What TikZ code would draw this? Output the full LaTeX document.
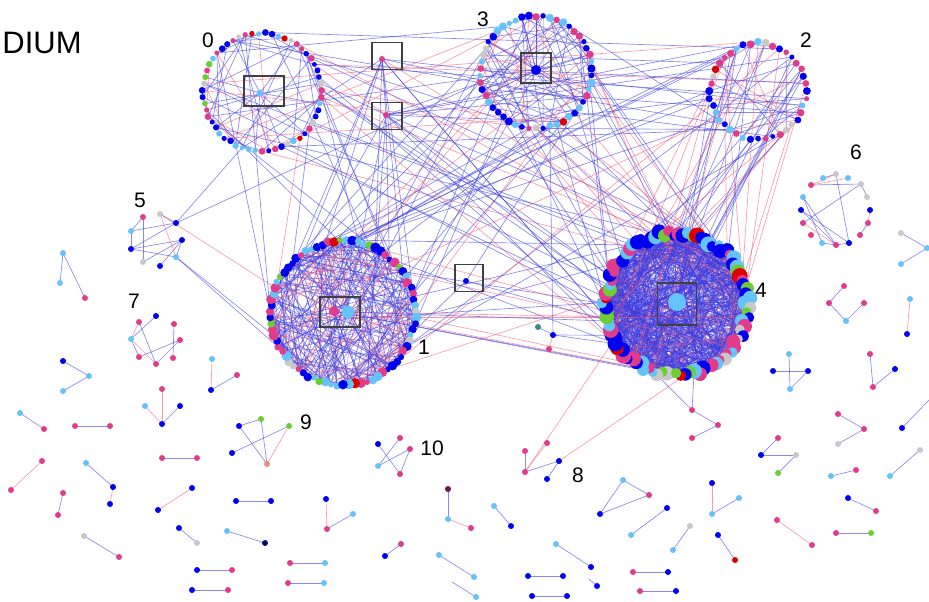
\documentclass[tikz,border=0pt]{standalone}
\usepackage{fontspec}
\setmainfont{Liberation Sans}
\usetikzlibrary{positioning}

\definecolor{nodeblue}{RGB}{0,0,240}
\definecolor{nodesky}{RGB}{100,195,250}
\definecolor{nodepink}{RGB}{225,60,140}
\definecolor{nodegrey}{RGB}{200,200,200}
\definecolor{nodegreen}{RGB}{110,205,50}
\definecolor{nodered}{RGB}{220,0,0}
\definecolor{nodesalmon}{RGB}{235,140,130}
\definecolor{nodeteal}{RGB}{60,140,130}
\definecolor{nodenavy}{RGB}{10,10,110}
\definecolor{nodepurple}{RGB}{110,20,90}
\definecolor{edgeblue}{RGB}{60,60,225}
\definecolor{edgered}{RGB}{240,90,120}

\newcommand\pickcolor{%
  \pgfmathrandominteger{\k}{1}{100}%
  \ifnum\k<36 \def\col{nodeblue}\else
  \ifnum\k<61 \def\col{nodesky}\else
  \ifnum\k<84 \def\col{nodepink}\else
  \ifnum\k<93 \def\col{nodegrey}\else
  \ifnum\k<97 \def\col{nodegreen}\else
  \def\col{nodered}\fi\fi\fi\fi\fi}

% name, cx, cy, radius, count, jitter
\newcommand\ringpoints[6]{%
  \foreach \i in {1,...,#5}{%
    \pgfmathsetmacro\rr{#4+#6*(rnd-0.5)}%
    \pgfmathsetmacro\aa{\i/#5*360+90}%
    \coordinate (#1-\i) at ({#2+\rr*cos(\aa)},{#3+\rr*sin(\aa)});}}

% from, n, to, n, count, red percent
\newcommand\links[6]{%
  \foreach \j in {1,...,#5}{%
    \pgfmathrandominteger{\a}{1}{#2}%
    \pgfmathrandominteger{\b}{1}{#4}%
    \pgfmathrandominteger{\k}{1}{100}%
    \ifnum\k>#6 \draw[bedge] (#1-\a) -- (#3-\b);\else\draw[redge] (#1-\a) -- (#3-\b);\fi}}

% name, count, min size, max size
\newcommand\ringdots[4]{%
  \foreach \i in {1,...,#2}{%
    \pickcolor\pgfmathsetmacro\s{#3+(#4-#3)*rnd}%
    \node[dot, fill=\col, minimum size=\s pt] (#1-d\i) at (#1-\i) {};}}

\def\smallnodes{a1/143/217/nodepink, a2/160/214/nodegrey, a3/176/223/nodeblue,
  a4/131/231/nodesky, a5/182/240/nodeblue, a6/131/249/nodeblue, a7/176/257/nodesky,
  a8/143/262/nodegrey, a9/160/266/nodeblue,
  b1/63/253/nodesky, b2/60/283/nodesky, b3/85/298/nodepink,
  g1/139/322/nodepink, g2/156/316/nodeblue, g3/174/324/nodepink, g4/131/339/nodesky,
  g5/180/340/nodepink, g6/139/357/nodepink, g7/156/364/nodepink, g8/173/358/nodepink,
  e1/63/361/nodeblue, e2/89/376/nodesky, e3/63/391/nodesky,
  f1/212/359/nodesky, f2/211/390/nodeblue, f3/237/375/nodepink,
  h1/162/389/nodepink, h2/145/406/nodesky, h3/180/406/nodeblue, h4/162/424/nodeblue,
  i1/20/413/nodesky, i2/44/429/nodepink, j1/75/426/nodepink, j2/110/426/nodepink,
  k1/239/426/nodeblue, k2/261/419/nodegreen, k3/289/426/nodegreen, k4/232/453/nodeblue,
  k5/267/464/nodesalmon,
  m1/378/444/nodeblue, m2/400/438/nodepink, m3/410/449/nodepink, m4/378/466/nodesky,
  m5/400/474/nodepink,
  n1/162/458/nodepink, n2/197/458/nodepink, o1/42/461/nodepink, o2/11/490/nodepink,
  q1/86/463/nodesky, q2/113/487/nodeblue, q3/110/504/nodeblue,
  r1/63/493/nodepink, r2/58/515/nodepink, t1/192/488/nodeblue, t2/158/510/nodeblue,
  u1/236/501/nodeblue, u2/271/501/nodeblue,
  v1/326/499/nodeblue, v2/327/529/nodepink, v3/353/514/nodesky,
  w1/448/489/nodepurple, w2/448/519/nodesky, w3/471/528/nodepink,
  y1/84/536/nodegrey, y2/119/557/nodepink, z1/179/528/nodeblue, z2/197/543/nodegrey,
  aa1/227/531/nodesky, aa2/265/543/nodenavy, ab1/385/556/nodeblue, ab2/401/544/nodepink,
  ac1/439/555/nodesky, ac2/474/577/nodesky, ac3/476/597/nodesky,
  ad1/197/570/nodeblue, ad2/232/570/nodepink, ae1/192/590/nodeblue, ae2/228/590/nodepink,
  af1/290/563/nodepink, af2/325/563/nodesky, ag1/288/583/nodepink, ag2/324/583/nodesky,
  p1/525/472/nodepink, p2/525/451/nodepink, p3/547/443/nodepink, p4/559/461/nodeblue,
  p5/547/479/nodeblue,
  pa1/692/410/nodepink, pa2/718/425/nodepink, pa3/692/438/nodepink,
  pb1/838/414/nodepink, pb2/864/429/nodepink, pb3/838/444/nodegrey, pc1/902/428/nodeblue,
  pd1/761/455/nodeblue, pd2/778/438/nodepink, pd3/796/455/nodegrey, pd4/778/473/nodegreen,
  pe1/831/476/nodesky, pe2/856/470/nodepink, pf1/890/476/nodesky, pf2/920/450/nodegrey,
  pg1/623/480/nodesky, pg2/649/495/nodepink, pg3/600/514/nodeblue,
  ph1/494/506/nodesky, ph2/511/526/nodeblue, pi1/667/508/nodeblue, pi2/631/535/nodesky,
  pj1/712/483/nodeblue, pj2/712/514/nodesky, pj3/739/498/nodesky,
  pk1/690/526/nodegrey, pk2/673/550/nodesky, pl1/718/535/nodeblue, pl2/735/560/nodered,
  pm1/777/520/nodepink, pm2/812/545/nodepink, pn1/848/498/nodeblue, pn2/876/511/nodepink,
  po1/836/533/nodepink, po2/871/533/nodegreen, pq1/556/544/nodesky, pq2/591/567/nodeblue,
  pr1/528/576/nodeblue, pr2/563/576/nodeblue, ps1/532/596/nodeblue, ps2/567/596/nodeblue,
  pt1/633/572/nodepink, pt2/668/572/nodeblue, pu1/640/591/nodepink, pu2/676/591/nodeblue,
  pv1/597/586/nodeblue,
  te1/538/327/nodeteal, te2/553/335/nodeblue, te3/549/349/nodepink,
  x1/823/178/nodesky, x2/836/174/nodegrey, x3/848/178/nodesky, x4/811/185/nodepink,
  x5/861/184/nodegrey, x6/867/197/nodegrey, x7/803/197/nodesky, x8/801/210/nodeblue,
  x9/870/210/nodeblue, x10/803/223/nodepink, x11/868/223/nodepink, x12/811/235/nodepink,
  x13/860/235/nodepink, x14/822/243/nodesky, x15/836/245/nodepink, x16/849/243/nodeblue,
  ra1/901/233/nodegrey, ra2/927/248/nodesky, ra3/901/264/nodesky,
  rb1/844/286/nodepink, rb2/829/303/nodepink, rb3/846/321/nodesky, rb4/864/303/nodepink,
  rc1/910/299/nodesky, rc2/907/334/nodeblue,
  rd1/789/354/nodesky, rd2/773/371/nodeblue, rd3/808/371/nodeblue, rd4/790/389/nodesky,
  re1/870/354/nodepink, re2/873/387/nodepink, re3/895/369/nodeblue}

\def\smallblue{a4/a3, a4/a1, a4/a6, a6/a3, a6/a5, a1/a8, a8/a5, a9/a5, a7/a5, a2/a3, a6/a7,
  b1/b2, b1/b3, g4/g2, g1/g7, g6/g5, g7/g5, g3/g8, g4/g6, e1/e2, e2/e3, f2/f3, h4/h3,
  i1/i2, j1/j2, k1/k2, k1/k5, k2/k5, k4/k3, m1/m5, m2/m4, m4/m3, m3/m5, n1/n2, q1/q2,
  r1/r2, u1/u2, v2/v3, w1/w2, y1/y2, z1/z2, aa1/aa2, ab1/ab2, ac1/ac2, fe4/ac3, ad1/ad2,
  ae1/ae2, af1/af2, ag1/ag2, p1/p2, p1/p4, p4/p5, pa1/pa2, pa2/pa3, pb1/pb2, pb2/pb3,
  pc1/fe1, pd1/pd2, pd1/pd3, pd3/pd4, pe1/pe2, pf1/pf2, pg1/pg2, pg2/pg3, pg3/pg1,
  ph1/ph2, pi1/pi2, pj2/pj3, pk1/pk2, pl1/pl2, pn1/pn2, po1/po2, pq1/pq2, pr1/pr2,
  ps1/ps2, pt1/pt2, pu1/pu2, fe3/pv1, te1/te2,
  x1/x2, x4/x5, x2/x16, x5/x10, x5/x6, x7/x15, x8/x15, x8/x16, x14/x15, x15/x16, x11/x13,
  x7/x14, ra1/ra2, ra2/ra3, rb1/rb2, rb2/rb3, rb3/rb4, rd1/rd4, rd2/rd3, rd3/rd4,
  re1/re2, re2/re3}

\def\smallred{a2/a7, g4/g1, g4/g7, f1/f2, h4/h1, h4/h2, k3/k5, o1/o2, q2/q3, t1/t2,
  v1/v2, w2/w3, p1/p3, pj1/pj2, pm1/pm2, te2/te3, x4/x2, x4/x3, x10/x15, x9/x11, rc1/rc2}

\begin{document}
\begin{tikzpicture}[x=0.5pt, y=-0.5pt,
    dot/.style={circle, inner sep=0pt, minimum size=3pt, fill=nodeblue},
    bedge/.style={draw=edgeblue, line width=0.33pt, opacity=0.6},
    redge/.style={draw=edgered, line width=0.33pt, opacity=0.6},
    frame/.style={draw=black!75, line width=0.8pt, inner sep=0pt},
    lbl/.style={font=\fontsize{10.5}{12}\selectfont, inner sep=0pt}
  ]
  \useasboundingbox (0,0) rectangle (929,601);
  \pgfmathsetseed{12}

  % points of the big communities
  \ringpoints{c0}{262}{92}{59}{55}{2}
  \ringpoints{c3}{536}{72}{56}{50}{2}
  \ringpoints{c2}{758}{91}{48}{40}{3}
  \ringpoints{c1}{343}{313}{72}{75}{3}
  \ringpoints{c4}{676}{304}{71}{95}{7}
  \coordinate (h0-1) at (260,93);
  \coordinate (h3-1) at (536,70);
  \coordinate (h1-1) at (334,311);
  \coordinate (h1-2) at (348,312);
  \coordinate (h4-1) at (677,302);
  \coordinate (bn-1) at (382,59);
  \coordinate (bn-2) at (386,115);
  \coordinate (bn-3) at (466,281);
  \foreach \n/\x/\y/\c in \smallnodes
    \coordinate (\n) at (\x,\y);
  \coordinate (fe1) at (929,400);
  \coordinate (fe3) at (589,579);
  \coordinate (fe4) at (452,582);

  % edges inside communities
  \links{c4}{95}{c4}{95}{760}{10}
  \links{h4}{1}{c4}{95}{50}{10}
  \links{c1}{75}{c1}{75}{240}{22}
  \links{h1}{2}{c1}{75}{34}{22}
  \links{c0}{55}{c0}{55}{40}{25}
  \links{h0}{1}{c0}{55}{8}{20}
  \links{c3}{50}{c3}{50}{50}{25}
  \links{h3}{1}{c3}{50}{14}{20}
  \links{c2}{40}{c2}{40}{30}{35}

  % edges between communities
  \links{c0}{55}{c4}{95}{14}{40}
  \links{c0}{55}{c1}{75}{10}{20}
  \links{c0}{55}{c3}{50}{8}{30}
  \links{c0}{55}{c2}{40}{6}{30}
  \links{c3}{50}{c1}{75}{18}{25}
  \links{c3}{50}{c4}{95}{22}{30}
  \links{c2}{40}{c4}{95}{26}{45}
  \links{c2}{40}{c1}{75}{10}{20}
  \links{c3}{50}{c2}{40}{8}{30}
  \links{c1}{75}{c4}{95}{10}{30}
  \links{h1}{2}{c4}{95}{6}{30}
  \links{h4}{1}{c2}{40}{6}{30}
  \links{bn}{2}{c1}{75}{10}{15}
  \links{bn}{2}{c4}{95}{7}{15}
  \links{bn}{2}{c3}{50}{4}{20}
  \links{bn}{2}{c0}{55}{3}{20}
  \draw[bedge] (bn-1) -- (bn-2);
  \links{bn}{3}{c2}{40}{3}{0}
  \draw[bedge] (bn-3) -- (c3-44);
  \draw[bedge] (bn-3) -- (c1-60);
  \draw[bedge] (bn-3) -- (c4-20);

  % edges of the small groups
  \foreach \a/\b in \smallblue
    \draw[bedge] (\a) -- (\b);
  \foreach \a/\b in \smallred
    \draw[redge] (\a) -- (\b);
  \draw[redge] (a2) -- (c1-23);
  \draw[bedge] (a7) -- (c1-15);
  \draw[bedge] (a7) -- (c1-13);
  \draw[bedge] (a3) -- (c0-3);
  \draw[bedge] (a3) -- (c3-11);
  \draw[redge] (p1) -- (c4-16);
  \draw[redge] (p4) -- (c4-92);
  \draw[bedge] (pa1) -- (c4-4);
  \draw[bedge] (pa1) -- (c4-91);
  \draw[bedge] (te2) -- (c4-17);
  \draw[bedge] (te2) -- (c4-15);
  \draw[bedge] (te2) -- (c3-48);

  % nodes
  \ringdots{c0}{55}{2.4}{3.4}
  \ringdots{c3}{50}{2.6}{4.2}
  \ringdots{c2}{40}{2.4}{4}
  \ringdots{c1}{75}{2.8}{5.2}
  \ringdots{c4}{95}{4.5}{8}
  \node[dot, fill=nodesky, minimum size=3.5pt] (hub0) at (h0-1) {};
  \node[dot, fill=nodeblue, minimum size=5pt] (hub3) at (h3-1) {};
  \node[dot, fill=nodepink, minimum size=5pt] (hub1a) at (h1-1) {};
  \node[dot, fill=nodesky, minimum size=6.5pt] (hub1b) at (h1-2) {};
  \node[dot, fill=nodesky, minimum size=9pt] (hub4) at (h4-1) {};
  \node[dot, fill=nodepink] (bd1) at (bn-1) {};
  \node[dot, fill=nodepink] (bd2) at (bn-2) {};
  \node[dot, fill=nodeblue] (bd3) at (bn-3) {};
  \foreach \n/\x/\y/\c in \smallnodes
    \node[dot, fill=\c] (\n-d) at (\n) {};

  % frames
  \node[frame, minimum width=20pt, minimum height=15pt] (f0) at (264,91) {};
  \node[frame, minimum width=15pt, minimum height=15pt] (f3) at (536,68) {};
  \node[frame, minimum width=20pt, minimum height=15pt] (f1) at (340,312) {};
  \node[frame, minimum width=19.5pt, minimum height=21pt] (f4) at (677,304) {};
  \node[frame, minimum width=15pt, minimum height=13.5pt] (fa) at (387,56) {};
  \node[frame, minimum width=15pt, minimum height=13.5pt] (fb) at (387,116) {};
  \node[frame, minimum width=14pt, minimum height=13.5pt] (fc) at (469,278) {};

  % labels
  \node[anchor=west, inner sep=0pt, font=\fontsize{15.5}{18}\selectfont] (title) at (2,43) {DIUM};
  \node[lbl] (l0) at (208,40) {0};
  \node[lbl] (l3) at (483,19) {3};
  \node[lbl] (l2) at (806,40) {2};
  \node[lbl] (l6) at (856,152) {6};
  \node[lbl] (l5) at (140,200) {5};
  \node[lbl] (l7) at (134,301) {7};
  \node[lbl] (l1) at (424,347) {1};
  \node[lbl] (l4) at (761,290) {4};
  \node[lbl] (l9) at (306,422) {9};
  \node[lbl] (l10) at (432,448) {10};
  \node[lbl] (l8) at (578,475) {8};
\end{tikzpicture}
\end{document}
